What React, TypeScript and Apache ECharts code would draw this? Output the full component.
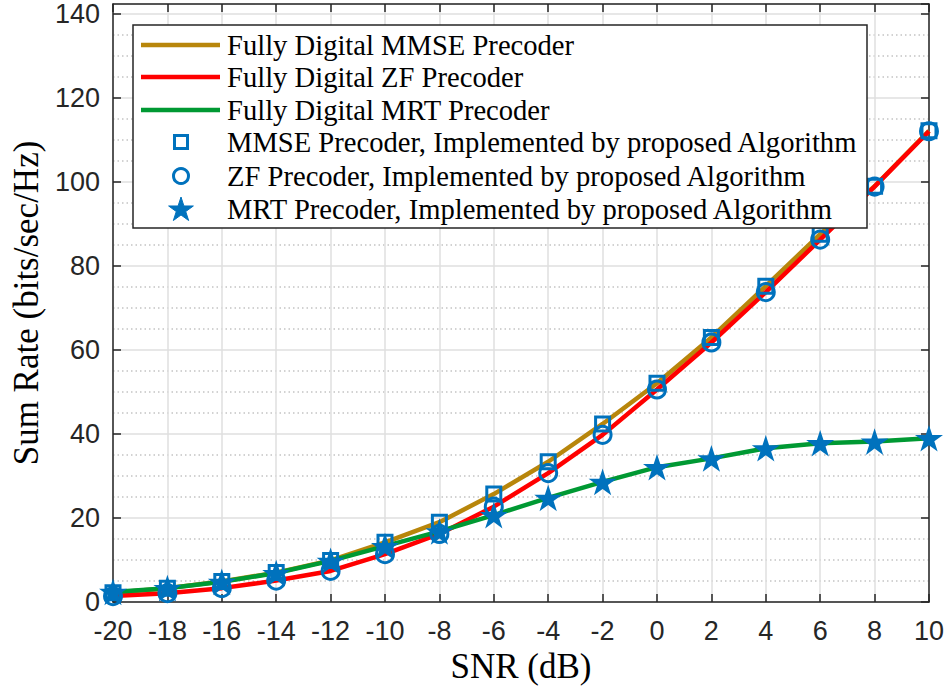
import React, { useEffect, useRef } from "react";
import * as echarts from "echarts";

const snr = [-20, -18, -16, -14, -12, -10, -8, -6, -4, -2, 0, 2, 4, 6, 8, 10];
const mmseDigital = [2.2, 3.3, 4.9, 7.0, 9.9, 14.2, 19.0, 25.7, 33.4, 42.4, 52.1, 63.0, 75.2, 87.6, 99.0, 112.2];
const zfDigital = [1.4, 2.1, 3.3, 5.1, 7.4, 11.4, 16.2, 22.7, 30.7, 39.8, 50.6, 61.8, 73.8, 86.3, 98.9, 112.1];
const mrtDigital = [2.4, 3.3, 4.8, 6.9, 9.8, 13.3, 16.8, 20.7, 24.8, 28.6, 32.1, 34.2, 36.6, 37.8, 38.2, 39.0];
const mmseAlg = [2.2, 3.3, 4.9, 7.0, 9.9, 14.2, 19.0, 25.7, 33.4, 42.4, 52.1, 63.0, 75.2, 87.6, 99.0, 112.2];
const zfAlg = [1.4, 2.1, 3.3, 5.1, 7.4, 11.4, 16.2, 22.7, 30.7, 39.8, 50.6, 61.8, 73.8, 86.3, 98.9, 112.1];
const mrtAlg = [2.4, 3.3, 4.8, 6.9, 9.8, 13.3, 16.8, 20.7, 24.8, 28.6, 32.1, 34.2, 36.6, 37.8, 38.2, 39.0];

const legendNames = [
  "Fully Digital MMSE Precoder",
  "Fully Digital ZF Precoder",
  "Fully Digital MRT Precoder",
  "MMSE Precoder, Implemented by proposed Algorithm",
  "ZF Precoder, Implemented by proposed Algorithm",
  "MRT Precoder, Implemented by proposed Algorithm",
];

const GOLD = "#B8860B";
const RED = "#FF0000";
const GREEN = "#009933";
const BLUE = "#0072BD";
const AX = "#262626";
const SERIF = "'Liberation Serif', 'Times New Roman', 'DejaVu Serif', serif";
const SANS = "'Liberation Sans', Arial, Helvetica, sans-serif";

const STAR =
  "path://M1 0 L1.2245 0.691 L1.951 0.691 L1.3633 1.118 L1.588 1.809 L1 1.382 L0.412 1.809 L0.6367 1.118 L0.049 0.691 L0.7755 0.691 Z";

function starPoints(cx: number, cy: number, r: number) {
  const pts: number[][] = [];
  for (let i = 0; i < 10; i++) {
    const a = -Math.PI / 2 + (i * Math.PI) / 5;
    const rr = i % 2 === 0 ? r : r * 0.382;
    pts.push([cx + rr * Math.cos(a), cy + rr * Math.sin(a)]);
  }
  return pts;
}

const zip = (ys: number[]) => snr.map((x, i) => [x, ys[i]]);

export default function App() {
  const ref = useRef<HTMLDivElement>(null);
  useEffect(() => {
    if (!ref.current) return;
    document.body.style.margin = "0";
    document.body.style.overflow = "hidden";
    const chart = echarts.init(ref.current, undefined, { renderer: "svg" });

    const lx = 133, ly = 25, lw = 734, lh = 203;
    const rowY = [45, 77, 110, 142, 176, 209];
    const textX = 227;
    const symX = 181;
    const Z = 100;
    const legendChildren: any[] = [
      {
        type: "rect",
        z: Z,
        shape: { x: lx, y: ly, width: lw, height: lh },
        style: { fill: "#fff", stroke: AX, lineWidth: 1.5 },
      },
    ];
    const lineCols = [GOLD, RED, GREEN];
    for (let i = 0; i < 3; i++) {
      legendChildren.push({
        type: "line",
        z: Z + 1,
        shape: { x1: 141, y1: rowY[i], x2: 220, y2: rowY[i] },
        style: { stroke: lineCols[i], lineWidth: 4.5 },
      });
    }
    legendChildren.push({
      type: "rect",
      z: Z + 1,
      shape: { x: symX - 6.5, y: rowY[3] - 6.5, width: 13, height: 13 },
      style: { fill: "none", stroke: BLUE, lineWidth: 3 },
    });
    legendChildren.push({
      type: "circle",
      z: Z + 1,
      shape: { cx: symX, cy: rowY[4], r: 7.5 },
      style: { fill: "none", stroke: BLUE, lineWidth: 3 },
    });
    legendChildren.push({
      type: "polygon",
      z: Z + 1,
      shape: { points: starPoints(symX, rowY[5] + 1, 13) },
      style: { fill: BLUE, stroke: BLUE, lineWidth: 1 },
    });
    legendNames.forEach((n, i) => {
      legendChildren.push({
        type: "text",
        z: Z + 1,
        style: {
          text: n,
          x: textX,
          y: rowY[i],
          fontSize: 28.6,
          fontFamily: SERIF,
          fill: "#000",
          verticalAlign: "middle",
        },
      });
    });

    const xCommon = { type: "value", min: -20, max: 10, interval: 2 };
    const yCommon = { type: "value", min: 0, max: 142.4, interval: 20 };
    const axLine = { show: true, onZero: false, lineStyle: { color: AX, width: 1.5 } };
    const axTick = { show: true, inside: true, length: 8, lineStyle: { color: AX, width: 1.5 } };

    chart.setOption({
      animation: false,
      backgroundColor: "#fff",
      grid: { left: 113, right: 14, top: 4, bottom: 91, containLabel: false },
      xAxis: [
        {
          ...xCommon,
          position: "bottom",
          name: "SNR (dB)",
          nameLocation: "middle",
          nameGap: 43,
          nameTextStyle: { fontFamily: SERIF, fontSize: 35, color: "#000" },
          axisLine: axLine,
          axisTick: axTick,
          axisLabel: { fontFamily: SANS, fontSize: 27, color: AX, margin: 15 },
          splitLine: { show: true, lineStyle: { color: "#dfdfdf", width: 1.5 } },
        },
        {
          ...xCommon,
          position: "top",
          axisLine: axLine,
          axisTick: axTick,
          axisLabel: { show: false },
          splitLine: { show: false },
        },
      ],
      yAxis: [
        {
          ...yCommon,
          position: "left",
          name: "Sum Rate (bits/sec/Hz)",
          nameLocation: "middle",
          nameGap: 68,
          nameTextStyle: { fontFamily: SERIF, fontSize: 35, color: "#000" },
          axisLine: axLine,
          axisTick: axTick,
          axisLabel: { fontFamily: SANS, fontSize: 27, color: AX, margin: 13, showMaxLabel: false },
          splitLine: { show: true, lineStyle: { color: "#dfdfdf", width: 1.5 } },
          minorTick: { show: false, splitNumber: 4 },
          minorSplitLine: { show: true, lineStyle: { color: "#c4c4c4", width: 1.5, type: [1.5, 3] } },
        },
        {
          ...yCommon,
          position: "right",
          axisLine: axLine,
          axisTick: axTick,
          axisLabel: { show: false },
          splitLine: { show: false },
        },
      ],
      series: [
        {
          name: legendNames[0],
          type: "line",
          data: zip(mmseDigital),
          showSymbol: false,
          symbol: "none",
          lineStyle: { color: GOLD, width: 4.5 },
          z: 2,
        },
        {
          name: legendNames[1],
          type: "line",
          data: zip(zfDigital),
          showSymbol: false,
          symbol: "none",
          lineStyle: { color: RED, width: 4.5 },
          z: 3,
        },
        {
          name: legendNames[2],
          type: "line",
          data: zip(mrtDigital),
          showSymbol: false,
          symbol: "none",
          lineStyle: { color: GREEN, width: 4.5 },
          z: 4,
        },
        {
          name: legendNames[3],
          type: "scatter",
          data: zip(mmseAlg),
          symbol: "rect",
          symbolSize: 14,
          itemStyle: { color: "rgba(0,0,0,0)", borderColor: BLUE, borderWidth: 3, opacity: 1 },
          z: 5,
        },
        {
          name: legendNames[4],
          type: "scatter",
          data: zip(zfAlg),
          symbol: "circle",
          symbolSize: 17,
          itemStyle: { color: "rgba(0,0,0,0)", borderColor: BLUE, borderWidth: 3, opacity: 1 },
          z: 6,
        },
        {
          name: legendNames[5],
          type: "scatter",
          data: zip(mrtAlg),
          symbol: STAR,
          symbolKeepAspect: true,
          symbolSize: 28,
          itemStyle: { color: BLUE, opacity: 1 },
          z: 7,
        },
      ],
      graphic: legendChildren,
    });

    return () => chart.dispose();
  }, []);

  return (
    <div
      ref={ref}
      style={{ position: "fixed", left: 0, top: 0, width: 947, height: 693 }}
    />
  );
}
